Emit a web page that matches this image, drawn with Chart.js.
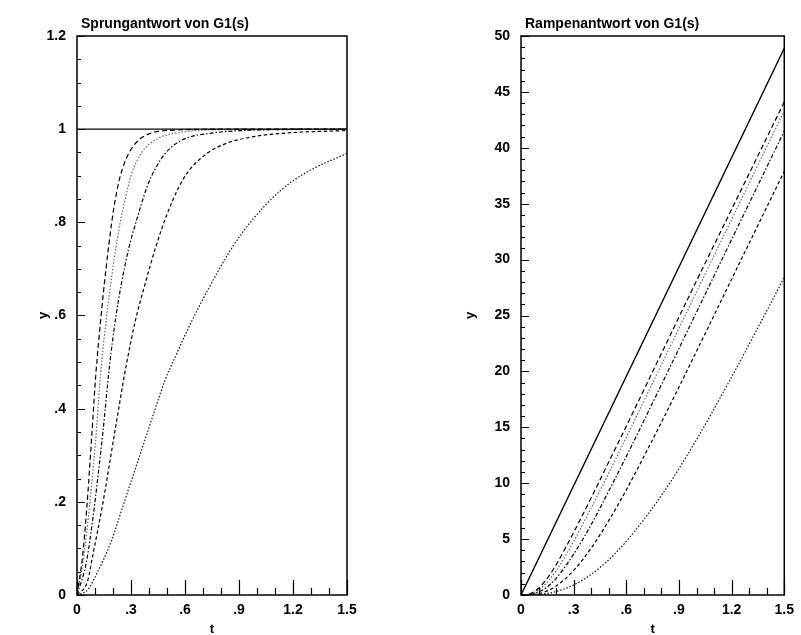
<!DOCTYPE html>
<html><head><meta charset="utf-8">
<script src="https://cdn.jsdelivr.net/npm/chart.js@4.4.1/dist/chart.umd.min.js"></script>
<style>
html,body{margin:0;padding:0;background:#fff;overflow:hidden;width:801px;height:635px;}
#c1{position:absolute;left:0;top:0;}
#c2{position:absolute;left:400px;top:0;}
</style></head><body>
<canvas id="c1" width="400" height="635"></canvas>
<canvas id="c2" width="401" height="635"></canvas>
<script>
// ---- texts and tick labels ----
const stepTitle = 'Sprungantwort von G1(s)';
const rampTitle = 'Rampenantwort von G1(s)';
const xLabel = 't';
const yLabel = 'y';
const xTicks = [0, 0.3, 0.6, 0.9, 1.2, 1.5];
const stepYTicks = [0, 0.2, 0.4, 0.6, 0.8, 1, 1.2];
const rampYTicks = [0, 5, 10, 15, 20, 25, 30, 35, 40, 45, 50];

// ---- step responses (left) ----
const stepInT = [0, 1.5];
const stepInY = [1, 1];
const step1T = [0, 0.03, 0.055, 0.08, 0.104, 0.134, 0.161, 0.193, 0.213, 0.241, 0.29, 0.4, 0.55, 0.8, 1.5];
const step1Y = [0, 0.08, 0.19, 0.33, 0.47, 0.6, 0.7, 0.8, 0.85, 0.9, 0.95, 0.99, 0.998, 1, 1];
const step2T = [0, 0.035, 0.068, 0.103, 0.13, 0.165, 0.185, 0.206, 0.24, 0.268, 0.3, 0.36, 0.45, 0.54, 0.8, 1.5];
const step2Y = [0, 0.075, 0.185, 0.33, 0.47, 0.6, 0.66, 0.72, 0.8, 0.85, 0.9, 0.95, 0.98, 0.991, 0.999, 1];
const step3T = [0, 0.052, 0.09, 0.115, 0.144, 0.18, 0.217, 0.245, 0.285, 0.335, 0.39, 0.435, 0.49, 0.58, 0.76, 1.0, 1.5];
const step3Y = [0, 0.07, 0.17, 0.25, 0.35, 0.49, 0.6, 0.665, 0.74, 0.81, 0.877, 0.915, 0.948, 0.976, 0.992, 0.998, 1];
const step4T = [0, 0.059, 0.085, 0.145, 0.21, 0.272, 0.325, 0.38, 0.436, 0.491, 0.565, 0.62, 0.722, 0.833, 0.98, 1.17, 1.5];
const step4Y = [0, 0.03, 0.08, 0.2, 0.35, 0.49, 0.59, 0.67, 0.745, 0.808, 0.875, 0.91, 0.948, 0.97, 0.984, 0.992, 0.997];
const step5T = [0, 0.059, 0.115, 0.189, 0.263, 0.337, 0.411, 0.486, 0.55, 0.64, 0.741, 0.852, 0.963, 1.13, 1.278, 1.5];
const step5Y = [0, 0.011, 0.05, 0.114, 0.2, 0.286, 0.372, 0.458, 0.515, 0.59, 0.665, 0.74, 0.8, 0.868, 0.908, 0.948];

// ---- ramp responses (right) ----
const rampInT = [0, 1.5];
const rampInY = [0, 48.9];
const rampT  = [0, 0.05, 0.1, 0.15, 0.2, 0.3, 0.4, 0.5, 0.6, 0.8, 1.0, 1.2, 1.5];
const ramp1Y = [0, 0.1, 0.6, 1.5, 2.7, 5.6, 8.7, 11.9, 15.1, 21.6, 28.1, 34.5, 44.1];
const ramp2Y = [0, 0.08, 0.44, 1.15, 2.15, 4.8, 7.8, 10.9, 14.1, 20.6, 27.1, 33.6, 43.3];
const ramp3Y = [0, 0.06, 0.27, 0.73, 1.49, 3.65, 6.3, 9.3, 12.4, 18.8, 25.3, 31.8, 41.5];
const ramp4Y = [0, 0.02, 0.12, 0.37, 0.8, 2.2, 4.2, 6.65, 9.4, 15.45, 21.8, 28.25, 37.9];
const ramp5Y = [0, 0.01, 0.05, 0.14, 0.31, 0.9, 1.85, 3.15, 4.8, 8.9, 13.9, 19.5, 28.4];

// ---- styles ----
const FONT = "'Liberation Sans', Arial, Helvetica, sans-serif";
const styles = [
  {borderColor:'#000', borderWidth:1.4},
  {borderColor:'#000', borderDash:[5,3]},
  {borderColor:'#666', borderDash:[1.5,1.8]},
  {borderColor:'#000', borderDash:[4,2,1.5,2]},
  {borderColor:'#000', borderDash:[3.5,2.5]},
  {borderColor:'#111', borderDash:[1.5,1.8]}
];

function ds(T, Y, st) {
  return Object.assign({
    data: T.map((t, i) => ({x: t, y: Y[i]})),
    borderWidth: 1.2, pointRadius: 0, fill: false,
    cubicInterpolationMode: 'monotone'
  }, st);
}
function fmt(v) {
  let s = String(+Number(v).toFixed(2));
  return s.replace(/^0\./, '.');
}

const framePlugin = {
  id: 'frame',
  afterDraw(chart, args, o) {
    const {ctx, chartArea: a, scales: {x, y}} = chart;
    ctx.save();
    ctx.strokeStyle = '#000';
    ctx.lineWidth = 1.5;
    ctx.strokeRect(a.left, a.top, a.right - a.left, a.bottom - a.top);
    ctx.lineWidth = 1.2;
    ctx.beginPath();
    const nx = Math.round((x.max - x.min) / o.xMinor);
    for (let i = 0; i <= nx; i++) {
      const v = x.min + i * o.xMinor;
      const px = Math.round(x.getPixelForValue(v)) + 0.5;
      const r = v / o.xMajor;
      const L = Math.abs(r - Math.round(r)) < 1e-6 ? 15 : 7;
      ctx.moveTo(px, a.bottom); ctx.lineTo(px, a.bottom - L);
    }
    const ny = Math.round((y.max - y.min) / o.yMinor);
    for (let i = 0; i <= ny; i++) {
      const v = y.min + i * o.yMinor;
      const py = Math.round(y.getPixelForValue(v)) + 0.5;
      const r = v / o.yMajor;
      const L = Math.abs(r - Math.round(r)) < 1e-6 ? 8 : 4;
      ctx.moveTo(a.left, py); ctx.lineTo(a.left + L, py);
    }
    ctx.stroke();
    // titles
    ctx.fillStyle = '#000';
    ctx.font = 'bold 14px ' + FONT;
    ctx.textAlign = 'left';
    ctx.textBaseline = 'alphabetic';
    ctx.fillText(o.title, a.left + 4, 28);
    ctx.font = 'bold 13px ' + FONT;
    ctx.textAlign = 'center';
    ctx.textBaseline = 'middle';
    ctx.fillText(xLabel, (a.left + a.right) / 2, 629);
    ctx.translate(o.yTitleX, (a.top + a.bottom) / 2);
    ctx.rotate(-Math.PI / 2);
    ctx.fillText(yLabel, 0, 0);
    ctx.restore();
  }
};

function makeChart(id, datasets, yMax, yTickVals, leftW, rightPad, frameOpts) {
  const tickFont = {family: FONT, size: 14, weight: 'bold'};
  return new Chart(document.getElementById(id), {
    type: 'line',
    data: {datasets},
    options: {
      responsive: false, animation: false, devicePixelRatio: 1,
      layout: {padding: {left: 0, top: 36, right: rightPad, bottom: 0}},
      plugins: {legend: {display: false}, tooltip: {enabled: false}, title: {display: false}, frame: frameOpts},
      scales: {
        x: {
          type: 'linear', min: 0, max: 1.5,
          grid: {display: false, drawTicks: false}, border: {display: false},
          afterBuildTicks: s => { s.ticks = xTicks.map(v => ({value: v})); },
          afterFit: s => { s.height = 40; },
          ticks: {padding: 7, color: '#000', font: tickFont, callback: fmt, maxRotation: 0, autoSkip: false}
        },
        y: {
          type: 'linear', min: 0, max: yMax,
          grid: {display: false, drawTicks: false}, border: {display: false},
          afterBuildTicks: s => { s.ticks = yTickVals.map(v => ({value: v})); },
          afterFit: s => { s.width = leftW; },
          ticks: {padding: 11, color: '#000', font: tickFont, callback: fmt, autoSkip: false}
        }
      }
    },
    plugins: [framePlugin]
  });
}

makeChart('c1', [
  ds(stepInT, stepInY, styles[0]),
  ds(step1T, step1Y, styles[1]),
  ds(step2T, step2Y, styles[2]),
  ds(step3T, step3Y, styles[3]),
  ds(step4T, step4Y, styles[4]),
  ds(step5T, step5Y, styles[5])
], 1.2, stepYTicks, 77, 53,
  {xMinor: 0.1, xMajor: 0.3, yMinor: 0.05, yMajor: 0.2, title: stepTitle, yTitleX: 43});

makeChart('c2', [
  ds(rampInT, rampInY, styles[0]),
  ds(rampT, ramp1Y, styles[1]),
  ds(rampT, ramp2Y, styles[2]),
  ds(rampT, ramp3Y, styles[3]),
  ds(rampT, ramp4Y, styles[4]),
  ds(rampT, ramp5Y, styles[5])
], 50, rampYTicks, 121, 10,
  {xMinor: 0.1, xMajor: 0.3, yMinor: 1, yMajor: 5, title: rampTitle, yTitleX: 70});
</script>
</body></html>
